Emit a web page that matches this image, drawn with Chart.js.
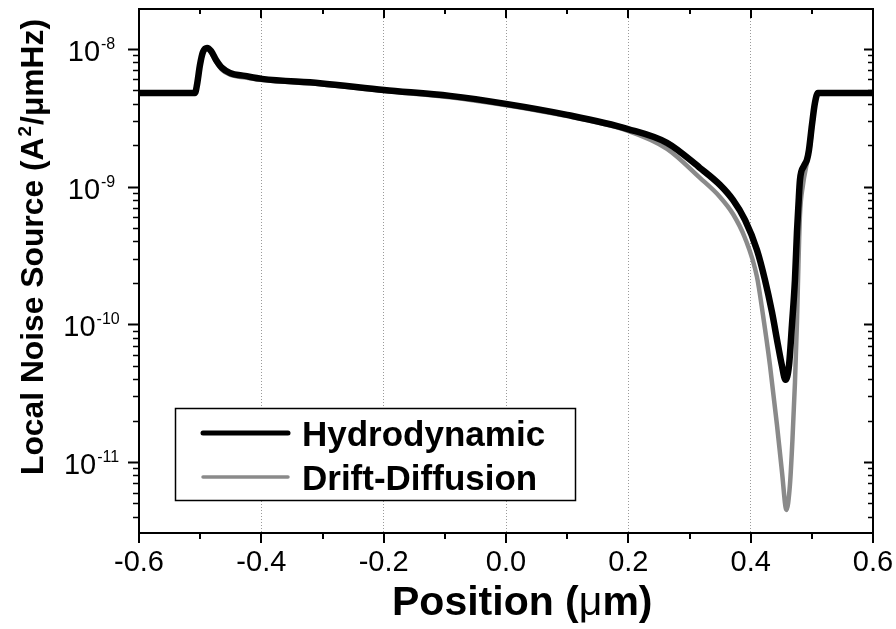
<!DOCTYPE html>
<html>
<head>
<meta charset="utf-8">
<script src="https://cdn.jsdelivr.net/npm/chart.js@4.4.0/dist/chart.umd.min.js"></script>
<style>
  html, body { margin: 0; padding: 0; background: #ffffff; }
  #plot { display: block; }
</style>
</head>
<body>
<canvas id="plot" width="896" height="629"></canvas>
<script>
// Local noise source along the device, hydrodynamic vs drift-diffusion model
const seriesNames = ['Hydrodynamic', 'Drift-Diffusion'];
const seriesColors = ['#000000', '#8a8a8a'];

// Position (um)
const hydroX = [-0.6, -0.5085, -0.5052, -0.5003, -0.4954, -0.4887, -0.4822, -0.474, -0.4642, -0.4512,
  -0.4267, -0.3989, -0.304, -0.1995, -0.0916, 0.0, 0.1, 0.1994, 0.2632, 0.3171,
  0.3498, 0.3711, 0.3907, 0.4103, 0.4234, 0.4348, 0.4446, 0.4512, 0.4569, 0.4626,
  0.4675, 0.4724, 0.4757, 0.4781, 0.4806, 0.4871, 0.492, 0.4953, 0.5002, 0.5051,
  0.51, 0.6];
// Noise source (A^2/umHz)
const hydroY = [4.79e-9, 4.79e-9, 5.48e-9, 7.65e-9, 9.51e-9, 1.017e-8, 9.67e-9, 8.32e-9, 7.28e-9, 6.69e-9,
  6.37e-9, 6.06e-9, 5.64e-9, 5.04e-9, 4.56e-9, 3.99e-9, 3.32e-9, 2.62e-9, 2.08e-9, 1.367e-9,
  1.029e-9, 8.0e-10, 5.73e-10, 3.47e-10, 2.1e-10, 1.23e-10, 7.09e-11, 4.99e-11, 3.95e-11, 4.99e-11,
  9.9e-11, 2.1e-10, 4.69e-10, 7.36e-10, 1.119e-9, 1.414e-9, 1.563e-9, 1.847e-9, 2.806e-9, 4.055e-9,
  4.79e-9, 4.79e-9];

const driftX = [-0.6, -0.5085, -0.5052, -0.5003, -0.4954, -0.4887, -0.4822, -0.474, -0.4642, -0.4512,
  -0.4267, -0.3989, -0.304, -0.1995, -0.0916, 0.0, 0.1, 0.1994, 0.2632, 0.3171,
  0.3498, 0.3711, 0.3907, 0.4103, 0.4201, 0.4315, 0.443, 0.4512, 0.4585, 0.4642,
  0.4683, 0.4724, 0.4757, 0.4781, 0.4806, 0.4855, 0.492, 0.4969, 0.5051, 0.51,
  0.6];
const driftY = [4.79e-9, 4.79e-9, 5.4e-9, 7.4e-9, 9.25e-9, 9.95e-9, 9.4e-9, 8.05e-9, 7.05e-9, 6.5e-9,
  6.2e-9, 5.95e-9, 5.55e-9, 4.95e-9, 4.46e-9, 3.9e-9, 3.25e-9, 2.54e-9, 1.88e-9, 1.157e-9,
  8.42e-10, 6.33e-10, 4.24e-10, 2.21e-10, 1.17e-10, 5.07e-11, 1.86e-11, 8.47e-12, 4.49e-12, 6.82e-12,
  1.45e-11, 3.75e-11, 1.04e-10, 2.7e-10, 6.23e-10, 1.03e-9, 1.49e-9, 1.94e-9, 4.06e-9, 4.79e-9,
  4.79e-9];

// Axis ranges and tick labels
const xMin = -0.6, xMax = 0.6, xStep = 0.2, xMinorStep = 0.1;
const yMin = 3.05e-12, yMax = 1.95e-8;
const yDecadeExponents = [-8, -9, -10, -11];
const xTitle = ['Position (', 'μ', 'm)'];
const yTitle = ['Local Noise Source (A', '2', '/μmHz)'];

const FONT = "'Liberation Sans', Arial, Helvetica, sans-serif";

function toPoints(xs, ys) { return xs.map((x, i) => ({ x: x, y: ys[i] })); }

const decorations = {
  id: 'decorations',
  afterDraw(chart) {
    const { ctx, chartArea: a, scales: { x, y } } = chart;
    ctx.save();

    // frame
    ctx.strokeStyle = '#000';
    ctx.lineWidth = 2;
    ctx.strokeRect(a.left, a.top, a.right - a.left, a.bottom - a.top);

    // x ticks: outward at the bottom, inward at the top
    ctx.lineWidth = 2;
    const nx = Math.round((xMax - xMin) / xMinorStep);
    for (let i = 0; i <= nx; i++) {
      const v = xMin + i * xMinorStep;
      const px = Math.round(x.getPixelForValue(v));
      const major = i % 2 === 0;
      ctx.beginPath();
      ctx.moveTo(px, a.bottom);
      ctx.lineTo(px, a.bottom + (major ? 10 : 6));
      ctx.moveTo(px, a.top);
      ctx.lineTo(px, a.top + (major ? 9 : 5));
      ctx.stroke();
    }

    // y ticks: outward on the left, inward on the right
    for (let e = -12; e <= -8; e++) {
      for (let m = 1; m <= 9; m++) {
        const v = m * Math.pow(10, e);
        if (v < yMin || v > yMax) continue;
        const py = Math.round(y.getPixelForValue(v)) + 0.5;
        const major = m === 1;
        ctx.lineWidth = major ? 2 : 1.5;
        ctx.beginPath();
        ctx.moveTo(a.left - (major ? 11 : 6), py);
        ctx.lineTo(a.left, py);
        ctx.moveTo(a.right, py);
        ctx.lineTo(a.right - (major ? 9 : 5), py);
        ctx.stroke();
      }
    }

    // y tick labels as powers of ten
    ctx.fillStyle = '#000';
    ctx.textBaseline = 'alphabetic';
    ctx.textAlign = 'left';
    yDecadeExponents.forEach(ex => {
      const py = y.getPixelForValue(Math.pow(10, ex));
      const base = '10', sup = '-' + Math.abs(ex);
      ctx.font = '29px ' + FONT;
      const w1 = ctx.measureText(base).width;
      ctx.font = '16px ' + FONT;
      const w2 = ctx.measureText(sup).width;
      const x0 = 91 - (w1 + w2) / 2;
      ctx.font = '29px ' + FONT;
      ctx.fillText(base, x0, py + 12);
      ctx.font = '16px ' + FONT;
      ctx.fillText(sup, x0 + w1 + 1, py);
    });

    // x axis title
    ctx.textAlign = 'left';
    let tx = 392;
    const ty = 615;
    ctx.font = 'bold 41px ' + FONT;
    ctx.fillText(xTitle[0], tx, ty); tx += ctx.measureText(xTitle[0]).width;
    ctx.font = '41px ' + FONT;
    ctx.fillText(xTitle[1], tx, ty); tx += ctx.measureText(xTitle[1]).width;
    ctx.font = 'bold 41px ' + FONT;
    ctx.fillText(xTitle[2], tx, ty);

    // y axis title, rotated
    ctx.save();
    ctx.translate(43, 475);
    ctx.rotate(-Math.PI / 2);
    let sx = 0;
    ctx.font = 'bold 31.8px ' + FONT;
    ctx.fillText(yTitle[0], sx, 0); sx += ctx.measureText(yTitle[0]).width + 1;
    ctx.font = 'bold 19px ' + FONT;
    ctx.fillText(yTitle[1], sx, -12); sx += ctx.measureText(yTitle[1]).width + 1;
    ctx.font = 'bold 31.8px ' + FONT;
    ctx.fillText(yTitle[2], sx, 0);
    ctx.restore();

    // legend box
    const lx = 175, ly = 408, lw = 400, lh = 92;
    ctx.fillStyle = '#fff';
    ctx.fillRect(lx, ly, lw, lh);
    ctx.strokeStyle = '#000';
    ctx.lineWidth = 1.5;
    ctx.strokeRect(lx + 0.5, ly + 0.5, lw, lh);
    const rows = [433, 477];
    const widths = [5, 3.5];
    ctx.lineCap = 'round';
    chart.data.datasets.forEach((ds, i) => {
      ctx.strokeStyle = ds.borderColor;
      ctx.lineWidth = widths[i];
      ctx.beginPath();
      ctx.moveTo(203, rows[i]);
      ctx.lineTo(288, rows[i]);
      ctx.stroke();
      ctx.fillStyle = '#000';
      ctx.font = 'bold 35px ' + FONT;
      ctx.textBaseline = 'alphabetic';
      ctx.fillText(ds.label, 302, rows[i] + 12.5);
    });

    ctx.restore();
  }
};

new Chart(document.getElementById('plot'), {
  type: 'line',
  data: {
    datasets: [
      {
        label: seriesNames[0],
        data: toPoints(hydroX, hydroY),
        borderColor: seriesColors[0],
        borderWidth: 6.5,
        pointRadius: 0,
        cubicInterpolationMode: 'monotone',
        borderCapStyle: 'round',
        borderJoinStyle: 'round',
        fill: false
      },
      {
        label: seriesNames[1],
        data: toPoints(driftX, driftY),
        borderColor: seriesColors[1],
        borderWidth: 4.5,
        pointRadius: 0,
        cubicInterpolationMode: 'monotone',
        borderCapStyle: 'round',
        borderJoinStyle: 'round',
        fill: false
      }
    ]
  },
  options: {
    responsive: false,
    animation: false,
    devicePixelRatio: 1,
    layout: { padding: { left: 0, top: 9, right: 23, bottom: 0 } },
    plugins: { legend: { display: false }, tooltip: { enabled: false } },
    scales: {
      x: {
        type: 'linear',
        min: xMin,
        max: xMax,
        afterFit: s => { s.height = 96; s.paddingLeft = 0; s.paddingRight = 0; },
        ticks: {
          stepSize: xStep,
          padding: 13,
          color: '#000',
          font: { family: FONT, size: 29 },
          maxRotation: 0,
          callback: v => (Math.abs(v) < 1e-9 ? 0 : v).toFixed(1)
        },
        grid: {
          drawTicks: false,
          lineWidth: 1,
          color: c => (c.tick && Math.abs(Math.abs(c.tick.value) - 0.6) < 1e-6) ? 'rgba(0,0,0,0)' : '#9a9a9a'
        },
        border: { display: false, dash: [1, 2] }
      },
      y: {
        type: 'logarithmic',
        min: yMin,
        max: yMax,
        afterFit: s => { s.width = 139; },
        ticks: { display: false },
        grid: { display: false },
        border: { display: false }
      }
    }
  },
  plugins: [decorations]
});
</script>
</body>
</html>
